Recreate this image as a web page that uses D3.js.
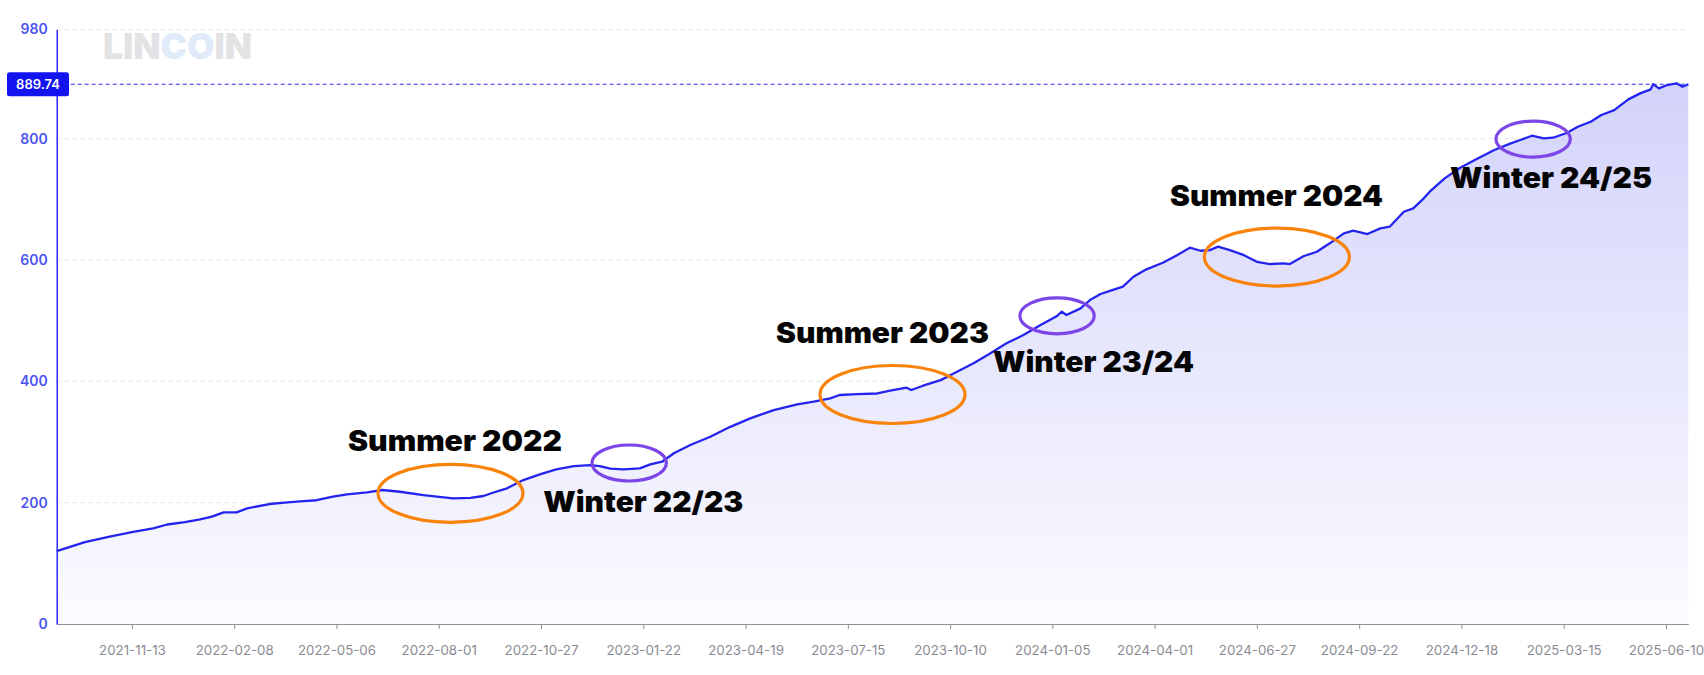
<!DOCTYPE html>
<html>
<head>
<meta charset="utf-8">
<script src="https://cdn.jsdelivr.net/npm/d3@7/dist/d3.min.js"></script>
<style>
  html, body { margin: 0; padding: 0; background: #fff; }
  svg { display: block; font-family: Inter, "Noto Sans", sans-serif; }
</style>
</head>
<body>
<svg id="chart" width="1704" height="675"></svg>
<script>
// ---- data ----
const dates = [
  "2021-09-10","2021-10-04","2021-10-25","2021-11-14","2021-12-01","2021-12-13","2021-12-28",
  "2022-01-10","2022-01-20","2022-01-30","2022-02-10","2022-02-19","2022-03-10","2022-03-23",
  "2022-04-05","2022-04-19","2022-05-03","2022-05-15","2022-06-01","2022-06-14","2022-06-29",
  "2022-07-19","2022-08-13","2022-08-28","2022-09-08","2022-09-16","2022-09-28","2022-10-12",
  "2022-10-26","2022-11-09","2022-11-24","2022-12-08","2022-12-16","2022-12-25","2023-01-05",
  "2023-01-19","2023-01-28","2023-02-07","2023-02-17","2023-03-03","2023-03-20","2023-04-06",
  "2023-04-23","2023-05-13","2023-06-02","2023-06-16","2023-06-30","2023-07-08","2023-07-23",
  "2023-08-09","2023-08-20","2023-09-03","2023-09-07","2023-09-17","2023-10-02","2023-10-13",
  "2023-10-30","2023-11-13","2023-11-27","2023-12-11","2023-12-26","2024-01-09","2024-01-13",
  "2024-01-17","2024-01-29","2024-02-06","2024-02-15","2024-02-23","2024-03-05","2024-03-14",
  "2024-03-25","2024-04-08","2024-04-20","2024-05-01","2024-05-10","2024-05-18","2024-05-25",
  "2024-06-04","2024-06-16","2024-06-27","2024-07-08","2024-07-20","2024-07-25","2024-08-06",
  "2024-08-17","2024-08-28","2024-09-09","2024-09-17","2024-09-29","2024-10-10","2024-10-18",
  "2024-10-30","2024-11-07","2024-11-16","2024-11-21","2024-12-04","2024-12-17","2024-12-31",
  "2025-01-15","2025-01-29","2025-02-06","2025-02-16","2025-02-26","2025-03-06","2025-03-18",
  "2025-03-27","2025-04-07","2025-04-16","2025-04-27","2025-05-09","2025-05-19","2025-05-28",
  "2025-05-30","2025-06-04","2025-06-11","2025-06-19","2025-06-24","2025-06-29"
];
const values = [
  120,135,144,152,157.6,164,168,
  172.5,177,184,184,190.7,197.8,200,
  202,204,209.9,213.8,217,220.9,218,
  212.6,207,208,211,216.4,223.6,237.3,
  246.7,255,260.4,262,260.4,256,255,
  256.6,263.2,267.5,281.4,295,308.7,325,
  339,352.7,362,366.4,372,377.5,379,
  380,384.6,389.5,385.7,392.8,402,413,
  429.7,446,462.7,476,492.8,507.7,514.8,
  509.3,520.3,534,544,549,556,572.4,
  584.6,595.5,608,620.3,615.3,616.4,622,
  616.4,608,597,593.4,594.5,593.4,606.6,
  613.6,627.5,644,648.3,642.8,652.2,654.9,
  679.6,685.2,701.7,712.6,735,752,766.4,
  781.3,792.3,797.8,804.9,800.6,801.6,809.8,
  819.7,827.9,839,847.2,864.8,874.7,881.3,
  890,883,888.5,891.3,885.7,889.74
];
const xTickLabels = ["2021-11-13","2022-02-08","2022-05-06","2022-08-01","2022-10-27","2023-01-22",
  "2023-04-19","2023-07-15","2023-10-10","2024-01-05","2024-04-01","2024-06-27","2024-09-22",
  "2024-12-18","2025-03-15","2025-06-10"];
const yTicks = [0, 200, 400, 600, 800, 980];
const lastValue = 889.74;

const annLabels = ["Summer 2022","Winter 22/23","Summer 2023","Winter 23/24","Summer 2024","Winter 24/25"];
const annKinds = ["summer","winter","summer","winter","summer","winter"];
const annDates = ["2022-08-11","2023-01-10","2023-08-22","2024-01-09","2024-07-14","2025-02-17"];
const annValues = [215.4, 265.4, 378.3, 508, 604.9, 799.4];

// ---- layout (pixels) ----
const W = 1704, H = 675;
const plot = { left: 56.7, right: 1688.3, top: 29.5, bottom: 624 };
const ellipseSize = { summer: [72.5, 29], winter: [37.2, 18] };
const ellipseColor = { summer: "#f98208", winter: "#7c45e8" };
// text placement: [x start, baseline, width]
const annText = [[348, 450.6, 214], [543.3, 511.7, 200], [776, 342.5, 213], [993, 371.7, 201], [1170, 206.3, 213], [1450, 188.3, 202]];

const parse = d3.utcParse("%Y-%m-%d");
const data = dates.map((d, i) => ({ date: parse(d), value: values[i] }));

const x = d3.scaleUtc().domain([parse(dates[0]), parse(dates[dates.length - 1])]).range([plot.left, plot.right]);
const y = d3.scaleLinear().domain([0, 980]).range([plot.bottom, plot.top]);

const svg = d3.select("#chart");

const defs = svg.append("defs");
const grad = defs.append("linearGradient").attr("id", "areaGrad")
  .attr("gradientUnits", "userSpaceOnUse")
  .attr("x1", 0).attr("x2", 0).attr("y1", y(lastValue)).attr("y2", plot.bottom);
grad.append("stop").attr("offset", 0).attr("stop-color", "#d3d3fa");
grad.append("stop").attr("offset", 1).attr("stop-color", "#fbfbff");

// grid
svg.append("g").selectAll("line").data(yTicks.filter(v => v > 0)).join("line")
  .attr("x1", plot.left).attr("x2", plot.right)
  .attr("y1", d => y(d)).attr("y2", d => y(d))
  .attr("stroke", "#e3e3e6").attr("stroke-width", 1).attr("stroke-dasharray", "4,4");

// watermark
const wm = svg.append("text").attr("x", 103).attr("y", 59)
  .attr("font-family", "Inter, sans-serif").attr("font-weight", 900).attr("font-size", 36)
  .attr("textLength", 149).attr("lengthAdjust", "spacingAndGlyphs");
wm.append("tspan").attr("fill", "#e3e3e5").text("LIN");
wm.append("tspan").attr("fill", "#e1eaf8").text("CO");
wm.append("tspan").attr("fill", "#e3e3e5").text("IN");

// area + line
const area = d3.area().x(d => x(d.date)).y0(plot.bottom).y1(d => y(d.value));
const line = d3.line().x(d => x(d.date)).y(d => y(d.value));
svg.append("path").datum(data).attr("d", area).attr("fill", "url(#areaGrad)");
svg.append("path").datum(data).attr("d", line).attr("fill", "none")
  .attr("stroke", "#2424ee").attr("stroke-width", 2.3).attr("stroke-linejoin", "round");

// last value marker line
svg.append("line").attr("x1", plot.left).attr("x2", plot.right)
  .attr("y1", y(lastValue)).attr("y2", y(lastValue))
  .attr("stroke", "#2d2df5").attr("stroke-width", 1).attr("stroke-dasharray", "4,3");

// x axis
const xAxis = d3.axisBottom(x).tickValues(xTickLabels.map(parse))
  .tickFormat(d3.utcFormat("%Y-%m-%d")).tickSize(5).tickSizeOuter(0);
const gx = svg.append("g").attr("transform", `translate(0,${plot.bottom})`).call(xAxis);
gx.select(".domain").attr("stroke", "#8e9099").attr("stroke-width", 1.2);
gx.selectAll(".tick line").attr("stroke", "#8e9099");
gx.selectAll(".tick text").attr("fill", "#898b93").attr("font-size", 13.3)
  .attr("font-family", "Inter, sans-serif").attr("dy", "1.75em");

// y axis
const yAxis = d3.axisLeft(y).tickValues(yTicks).tickSize(0).tickPadding(9);
const gy = svg.append("g").attr("transform", `translate(${plot.left},0)`).call(yAxis);
gy.select(".domain").attr("stroke", "#2a2af5").attr("stroke-width", 1.5);
gy.selectAll(".tick text").attr("fill", "#4c55f2").attr("font-size", 14)
  .attr("font-weight", 600).attr("font-family", "Inter, sans-serif");

// price tag
const tag = svg.append("g");
tag.append("rect").attr("x", 7).attr("y", y(lastValue) - 12).attr("width", 62).attr("height", 24)
  .attr("rx", 2.5).attr("fill", "#1414f0");
tag.append("text").attr("x", 38).attr("y", y(lastValue) + 4.5).attr("text-anchor", "middle")
  .attr("fill", "#fff").attr("font-size", 13).attr("font-weight", 600).text(d3.format(".2f")(lastValue));

// annotations
const ann = svg.append("g");
annLabels.forEach((lab, i) => {
  const k = annKinds[i];
  ann.append("ellipse")
    .attr("cx", x(parse(annDates[i]))).attr("cy", y(annValues[i]))
    .attr("rx", ellipseSize[k][0]).attr("ry", ellipseSize[k][1])
    .attr("fill", "none").attr("stroke", ellipseColor[k]).attr("stroke-width", 3.2);
  ann.append("text").attr("x", annText[i][0]).attr("y", annText[i][1])
    .attr("font-family", "Inter, sans-serif").attr("font-weight", 900).attr("font-size", 28)
    .attr("textLength", annText[i][2]).attr("lengthAdjust", "spacingAndGlyphs")
    .attr("fill", "#050505").text(lab);
});
</script>
</body>
</html>
